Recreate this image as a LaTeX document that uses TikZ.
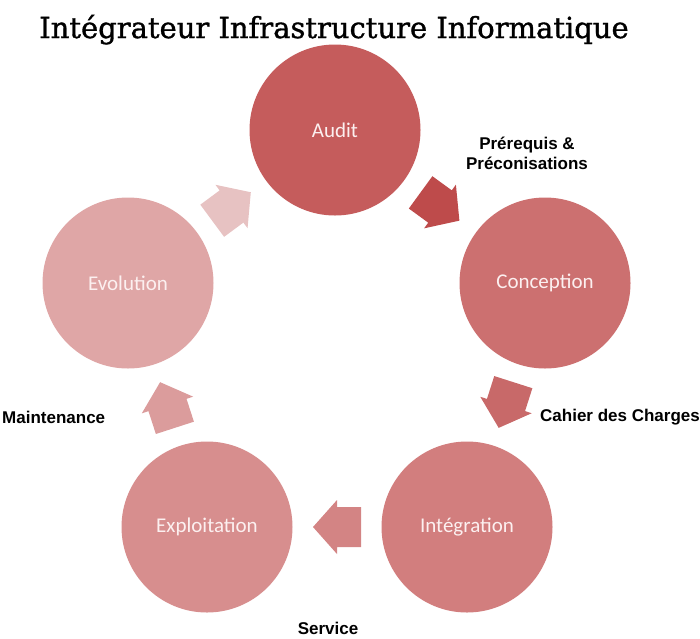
\documentclass[tikz,border=0pt]{standalone}
\usepackage{fontspec}
\setmainfont{Liberation Sans}
\newfontfamily\titlefont[FakeBold=1.2]{DejaVu Serif}
\newfontfamily\circfont{Carlito}
\usetikzlibrary{calc}
\definecolor{cA}{HTML}{C55C5C}
\definecolor{cB}{HTML}{CC7070}
\definecolor{cC}{HTML}{D27E7E}
\definecolor{cD}{HTML}{D78E8E}
\definecolor{cE}{HTML}{DFA6A6}
\definecolor{aA}{HTML}{BE4B4B}
\definecolor{aB}{HTML}{C86969}
\definecolor{aC}{HTML}{D38484}
\definecolor{aD}{HTML}{DB9C9C}
\definecolor{aE}{HTML}{E7C2C2}
\definecolor{ctext}{HTML}{FCF0F0}
\tikzset{
  stage/.style={circle, minimum size=171pt, inner sep=0pt, fill=#1, text=ctext, font=\circfont\fontsize{21}{24}\selectfont},
  lbl/.style={font=\bfseries\fontsize{17}{20}\selectfont, text=black, inner sep=0pt, align=center},
  pics/blockarrow/.style={code={\fill[#1] (-24,-20) -- (0,-20) -- (0,-27) -- (24,0) -- (0,27) -- (0,20) -- (-24,20) -- cycle;}}
}
\begin{document}
\begin{tikzpicture}[x=1pt,y=-1pt]
\useasboundingbox (0,0) rectangle (700,638);
\node[font=\titlefont\fontsize{29}{34}\selectfont, inner sep=0pt, anchor=base] (title) at (334,38) {Intégrateur Infrastructure Informatique};
\node[stage=cA] (audit) at (335,130) {Audit};
\node[stage=cB] (conc) at (545,283) {Conception};
\node[stage=cC] (integ) at (467,527) {Intégration};
\node[stage=cD] (expl) at (207,527) {Exploitation};
\node[stage=cE] (evol) at (128,283) {Evolution};
\path let \p1=($(conc)-(audit)$), \n1={atan2(\y1,\x1)} in pic[rotate=\n1] at ($(audit)!0.5!(conc)$) {blockarrow=aA};
\path let \p1=($(integ)-(conc)$), \n1={atan2(\y1,\x1)} in pic[rotate=\n1] at ($(conc)!0.5!(integ)$) {blockarrow=aB};
\path let \p1=($(expl)-(integ)$), \n1={atan2(\y1,\x1)} in pic[rotate=\n1] at ($(integ)!0.5!(expl)$) {blockarrow=aC};
\path let \p1=($(evol)-(expl)$), \n1={atan2(\y1,\x1)} in pic[rotate=\n1] at ($(expl)!0.5!(evol)$) {blockarrow=aD};
\path let \p1=($(audit)-(evol)$), \n1={atan2(\y1,\x1)} in pic[rotate=\n1] at ($(evol)!0.5!(audit)$) {blockarrow=aE};
\node[lbl] (l1) at (527,153) {Prérequis \&\\Préconisations};
\node[lbl] (l2) at (620,417) {Cahier des Charges};
\node[lbl, anchor=west] (l3) at (2,417) {Maintenance};
\node[lbl] (l4) at (328,628) {Service};
\end{tikzpicture}
\end{document}
